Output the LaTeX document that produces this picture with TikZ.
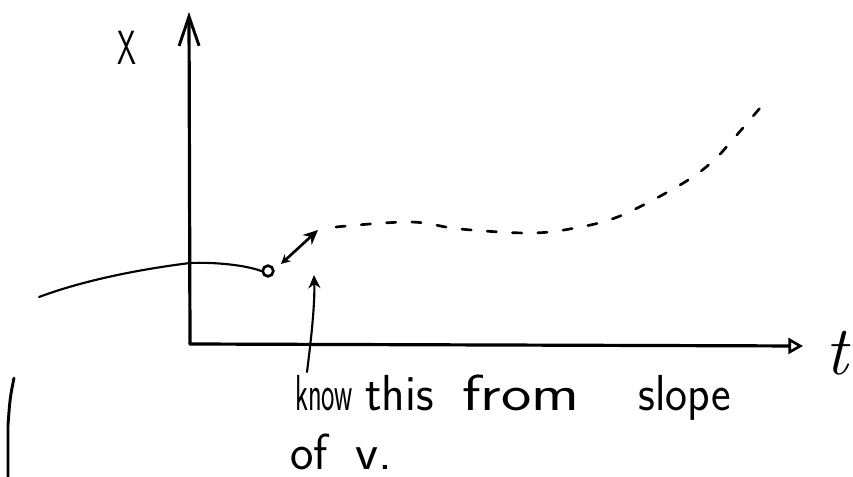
\documentclass[tikz,border=0pt]{standalone}
\usetikzlibrary{arrows.meta}
\begin{document}
\begin{tikzpicture}[x=0.75pt,y=-0.75pt,
  axis/.style={line width=2.4pt,line cap=round},
  pen/.style={line width=1.6pt,line cap=round},
  hw/.style={font=\sffamily\fontsize{38}{40}\selectfont,inner sep=0pt,anchor=base west},
  dashcurve/.style={line width=2pt,dash pattern=on 7pt off 12pt,line cap=round}]
\useasboundingbox (0,0) rectangle (853,477);
% axes
\coordinate (o) at (190,344);
\coordinate (ytip) at (189,12);
\coordinate (xtip) at (803,346);
\draw[axis,-{Straight Barb[length=22pt,width=15pt,line width=2.2pt]}] (o) -- (ytip);
\draw[axis,-{Triangle[open,length=11pt,width=12pt,line width=2pt]}] (o) -- (xtip);
\node[font=\sffamily\fontsize{36}{36}\selectfont,inner sep=0pt] (xlbl) at (127,48) {\scalebox{0.63}[1]{X}};
\node[font=\fontsize{52}{52}\selectfont\itshape,inner sep=0pt,anchor=base west] (tlbl) at (825,374) {t};
% point and curve from the left
\node[circle,draw,line width=2pt,minimum size=8pt,inner sep=0pt] (pt) at (268,271) {};
\coordinate (s) at (39,297);
\draw[pen] (s) .. controls (90,278) and (150,268) .. (190,263)
  .. controls (215,262) and (245,265) .. (pt.west);
% tangent double arrow
\coordinate (a0) at (281,264);
\coordinate (a1) at (318,230);
\draw[pen,line width=2pt,{Stealth[length=7pt,width=7pt]}-{Stealth[length=11pt,width=10pt]}] (a0) -- (a1);
% dashed continuation
\coordinate (d0) at (336,227);
\draw[dashcurve] plot[smooth,tension=0.6] coordinates {(d0) (410,222) (460,229) (530,233) (575,228) (620,216) (680,185) (712,162) (735,137) (760,108)};
% pointer arrow
\coordinate (p0) at (307,372);
\coordinate (p1) at (314,275);
\draw[pen,-{Stealth[length=10pt,width=9pt]}] (p0) .. controls (311,340) and (315,305) .. (p1);
% text
\node[hw] (w1) at (295,410) {\scalebox{0.56}[1]{know}};
\node[hw] (w2) at (365,410) {\scalebox{0.96}[1]{this}};
\node[hw] (w3) at (462,410) {\scalebox{1.27}[1]{from}};
\node[hw] (w4) at (638,410) {\scalebox{0.92}[1]{slope}};
\node[hw] (w5) at (290,469) {\scalebox{0.98}[1]{of}};
\node[hw] (w6) at (355,469) {\scalebox{1.05}[1]{v.}};
% left vertical stroke
\coordinate (l0) at (14,378);
\coordinate (l1) at (8,425);
\coordinate (l2) at (8,477);
\draw[pen,line width=2.2pt] (l0) .. controls (10,398) .. (l1) -- (l2);
\end{tikzpicture}
\end{document}
